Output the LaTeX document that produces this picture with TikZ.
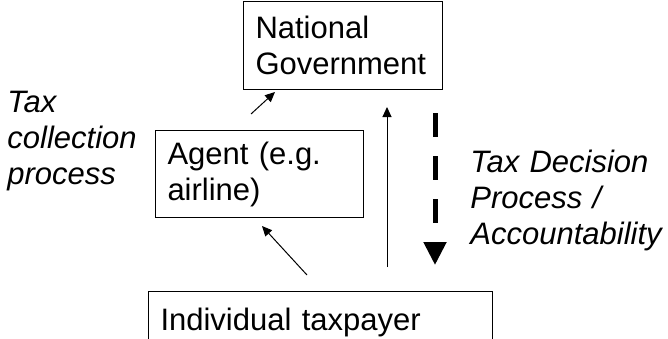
\documentclass[tikz,border=0pt]{standalone}
\usepackage{fontspec}
\setmainfont{Liberation Sans}
\usetikzlibrary{arrows.meta}

\begin{document}
\begin{tikzpicture}[x=0.5pt,y=-0.5pt,>={Triangle[length=5pt,width=4.5pt]},font=\fontsize{15.5}{18}\selectfont]
    \tikzstyle{box}=[draw,line width=0.5pt,anchor=north west,align=left,inner xsep=6pt,inner ysep=0pt]
    \tikzstyle{annot}=[anchor=base west,align=left,inner sep=0pt,text width=112pt,font=\fontsize{15.5}{18}\selectfont\itshape]
    \tikzstyle{flow}=[->,line width=0.5pt]
    \tikzstyle{decision}=[line width=2.5pt,dash pattern=on 12pt off 9.5pt,-{Triangle[length=11.5pt,width=11pt]}]

    \useasboundingbox (0,0) rectangle (668,338);
    \clip (0,0) rectangle (668,338);

    % Draw the boxes
    \node[box,text width=87.5pt,minimum height=44pt] (gov) at (243,1) {National\\Government};
    \node[box,text width=92pt,minimum height=43.5pt] (agent) at (155,130) {Agent (e.g.\\airline)};
    \node[box,text width=160pt,minimum height=31pt] (payer) at (148,291) {Individual taxpayer};

    % Annotate the two processes
    \node[annot] (collect) at (7,112) {Tax\\collection\\process};
    \node[annot] (decide) at (470,172) {Tax Decision\\Process /\\Accountability};

    % End points of the connectors
    \coordinate (agent-out) at (251,114);
    \coordinate (gov-in) at (275,92);
    \coordinate (payer-out) at (307,275);
    \coordinate (agent-in) at (262,226);
    \coordinate (payer-up) at (387,267);
    \coordinate (gov-low) at (387,107);
    \coordinate (gov-down) at (435,113);
    \coordinate (payer-in) at (435,265);

    % Connect the boxes
    \draw[flow] (agent-out) -- (gov-in);
    \draw[flow] (payer-out) -- (agent-in);
    \draw[flow] (payer-up) -- (gov-low);
    \draw[decision] (gov-down) -- (payer-in);
\end{tikzpicture}
\end{document}
